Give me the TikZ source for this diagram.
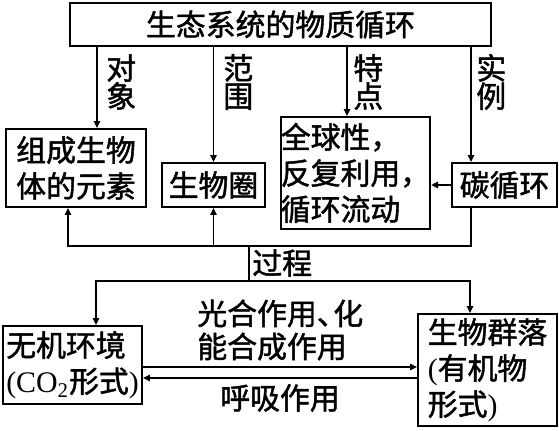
\documentclass[tikz,border=0pt]{standalone}
\usepackage{fontspec}
\setmainfont{Liberation Serif}
\newfontfamily\cjk{Noto Sans CJK SC}[FakeBold=1.5]
\usetikzlibrary{arrows.meta}
\newcommand{\latn}[1]{{\rmfamily #1}}

\begin{document}
\begin{tikzpicture}[
  every node/.style={font=\cjk\fontsize{17}{20.5}\selectfont, inner sep=0pt},
  box/.style={draw=black, line width=1pt, align=center},
  lbl/.style={align=center, font=\cjk\fontsize{17}{16}\selectfont},
  line/.style={line width=1pt, draw=black},
  arr/.style={-{Triangle[length=4pt, width=3.6pt]}, line width=1pt, draw=black}
]
  \useasboundingbox (0,0) rectangle (11.18,8.6);

  %% Boxes
  \node[box, minimum width=8.42cm, minimum height=0.86cm] (cycle)  at (5.61, 8.11) {生态系统的物质循环};
  \node[box, minimum width=2.80cm, minimum height=1.56cm] (elem)   at (1.52, 5.24) {组成生物\\体的元素};
  \node[box, minimum width=2.06cm, minimum height=0.88cm] (bio)    at (4.27, 4.90) {生物圈};
  \node[box, align=left, minimum width=2.94cm, minimum height=2.24cm] (feat) at (7.11, 5.14) {全球性，\\反复利用，\\循环流动};
  \node[box, minimum width=2.10cm, minimum height=0.88cm] (carbon) at (10.09, 4.90) {碳循环};
  \node[box, align=left, minimum width=2.78cm, minimum height=1.56cm] (inorg) at (1.45, 1.30)
    {无机环境\\\latn{(CO\textsubscript{2}}形式\latn{)}};
  \node[box, align=left, minimum width=2.78cm, minimum height=2.24cm] (comm)  at (9.75, 1.20)
    {生物群落\\\latn{(}有机物\\形式\latn{)}};

  %% Junctions
  \coordinate (hub)   at (4.98, 3.68);
  \coordinate (split) at (4.98, 2.98);

  %% Arrows from the top box
  \draw[arr] (1.94,0 |- cycle.south) -- (1.94,0 |- elem.north);
  \draw[arr] (cycle.south -| bio)    -- (bio.north);
  \draw[arr] (6.94,0 |- cycle.south) -- (6.94,0 |- feat.north);
  \draw[arr] (9.42,0 |- cycle.south) -- (9.42,0 |- carbon.north);
  \draw[arr] (carbon.west) -- (feat.east |- carbon.west);

  %% Process part
  \draw[line] (9.42,0 |- carbon.south) |- (hub);
  \draw[arr]  (hub) -| (1.36,0 |- elem.south);
  \draw[arr]  (hub -| bio) -- (bio.south);
  \draw[line] (hub) -- (split);
  \draw[arr]  (split) -| (1.92,0 |- inorg.north);
  \draw[arr]  (split) -| (9.40,0 |- comm.north);
  \draw[arr]  (inorg.east |- 0,1.26) -- (comm.west |- 0,1.26);
  \draw[arr]  (comm.west |- 0,1.04)  -- (inorg.east |- 0,1.04);

  %% Labels
  \node[lbl, anchor=west] (lobj)   at (2.12, 6.96) {对\\象};
  \node[lbl, anchor=west] (lrange) at (4.46, 6.96) {范\\围};
  \node[lbl, anchor=west] (lfeat)  at (7.06, 6.96) {特\\点};
  \node[lbl, anchor=west] (lcase)  at (9.52, 6.96) {实\\例};
  \node[anchor=west] (lproc) at (5.04, 3.34) {过程};
  \node[anchor=west, align=left, font=\cjk\fontsize{17}{18.8}\selectfont] (lphoto) at (3.94, 2.00)
    {光合作用、\hspace{-0.45em}化\\能合成作用};
  \node (lresp) at (5.60, 0.64) {呼吸作用};
\end{tikzpicture}
\end{document}
